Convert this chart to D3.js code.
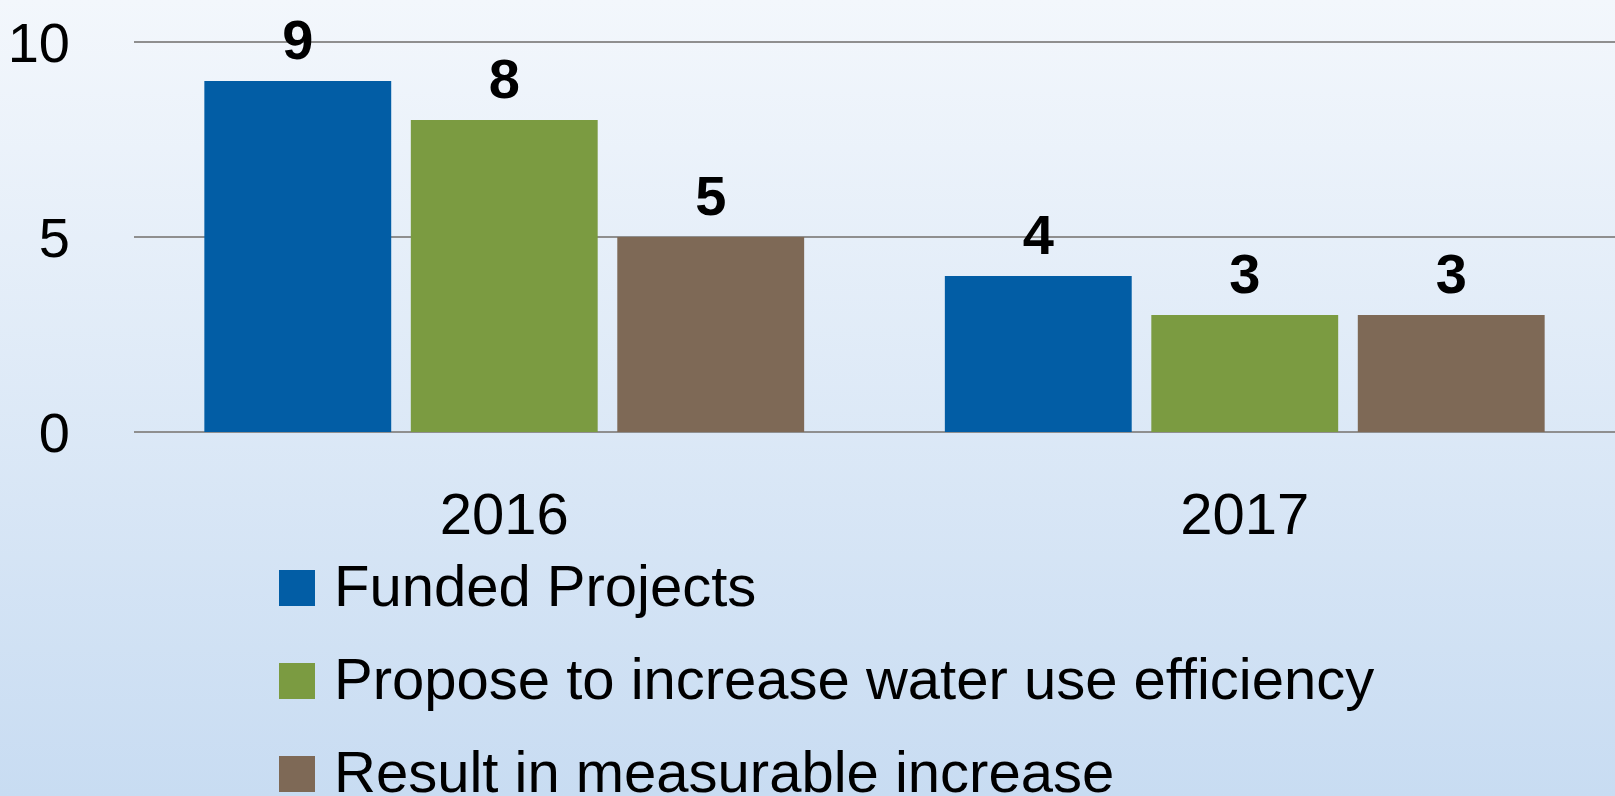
<!DOCTYPE html>
<html>
<head>
  <meta charset="utf-8">
  <title>Funded Projects</title>
  <style>
    html, body { margin: 0; padding: 0; overflow: hidden; }
    body { font-family: "Liberation Sans Narrow", "Liberation Sans", sans-serif; }
  </style>
</head>
<body>
  <script src="https://d3js.org/d3.v7.min.js"></script>
  <script type="text/javascript">
    var years = ["2016", "2017"];
    var seriesNames = ["Funded Projects", "Propose to increase water use efficiency", "Result in measurable increase"];
    var funded = [9, 4];
    var propose = [8, 3];
    var measurable = [5, 3];
    var yTicks = [0, 5, 10];
    var colors = ["#025da5", "#7b9b41", "#7e6956"];

    var W = 1615, H = 796;
    var margin = {top: 42, right: 0, bottom: 364, left: 134};

    var svg = d3.select("body").append("svg")
        .attr("width", W)
        .attr("height", H);

    var grad = svg.append("defs").append("linearGradient")
        .attr("id", "bg")
        .attr("x1", 0).attr("y1", 0).attr("x2", 0).attr("y2", 1);
    grad.append("stop").attr("offset", "0%").attr("stop-color", "#f3f7fc");
    grad.append("stop").attr("offset", "100%").attr("stop-color", "#c8dcf2");

    svg.append("rect")
        .attr("width", W).attr("height", H)
        .attr("fill", "url(#bg)");

    var series = [funded, propose, measurable];
    var data = years.map(function(yr, i) {
      return {year: yr, values: series.map(function(s, j) { return {key: seriesNames[j], value: s[i], idx: j}; })};
    });

    var y = d3.scaleLinear()
        .domain([0, 10])
        .range([432, 42]);

    var x0 = d3.scaleBand()
        .domain(years)
        .range([margin.left, W])
        .paddingInner(0.19)
        .paddingOuter(0.095);

    var x1 = d3.scaleBand()
        .domain(seriesNames)
        .range([0, x0.bandwidth()])
        .paddingInner(0.095);

    // gridlines
    svg.append("g")
        .selectAll("line")
        .data(yTicks)
        .enter().append("line")
        .attr("x1", margin.left).attr("x2", W)
        .attr("y1", function(d) { return y(d); })
        .attr("y2", function(d) { return y(d); })
        .attr("stroke", "#8f8f8f")
        .attr("stroke-width", 2);

    // y tick labels
    svg.append("g")
        .selectAll("text")
        .data(yTicks)
        .enter().append("text")
        .attr("x", 70)
        .attr("y", function(d) { return y(d); })
        .attr("dy", "0.36em")
        .attr("text-anchor", "end")
        .attr("font-size", 56)
        .attr("fill", "#000")
        .text(function(d) { return d; });

    var groups = svg.append("g")
        .selectAll("g")
        .data(data)
        .enter().append("g")
        .attr("transform", function(d) { return "translate(" + x0(d.year) + ",0)"; });

    groups.selectAll("rect")
        .data(function(d) { return d.values; })
        .enter().append("rect")
        .attr("x", function(d) { return x1(d.key); })
        .attr("y", function(d) { return y(d.value); })
        .attr("width", x1.bandwidth())
        .attr("height", function(d) { return y(0) - y(d.value); })
        .attr("fill", function(d) { return colors[d.idx]; });

    groups.selectAll("text")
        .data(function(d) { return d.values; })
        .enter().append("text")
        .attr("x", function(d) { return x1(d.key) + x1.bandwidth() / 2; })
        .attr("y", function(d) { return y(d.value) - 22; })
        .attr("text-anchor", "middle")
        .attr("font-size", 56)
        .attr("font-weight", "bold")
        .attr("fill", "#000")
        .text(function(d) { return d.value; });

    // x labels
    svg.append("g")
        .selectAll("text")
        .data(years)
        .enter().append("text")
        .attr("x", function(d) { return x0(d) + x0.bandwidth() / 2; })
        .attr("y", 534)
        .attr("text-anchor", "middle")
        .attr("font-size", 58)
        .attr("fill", "#000")
        .text(function(d) { return d; });

    // legend
    var legend = svg.append("g")
        .selectAll("g")
        .data(seriesNames)
        .enter().append("g")
        .attr("transform", function(d, i) { return "translate(279," + (606 + i * 93) + ")"; });

    legend.append("rect")
        .attr("x", 0).attr("y", -36)
        .attr("width", 36).attr("height", 36)
        .attr("fill", function(d, i) { return colors[i]; });

    legend.append("text")
        .attr("x", 55)
        .attr("y", 0)
        .attr("font-size", 58)
        .attr("fill", "#000")
        .text(function(d) { return d; });
  </script>
</body>
</html>
